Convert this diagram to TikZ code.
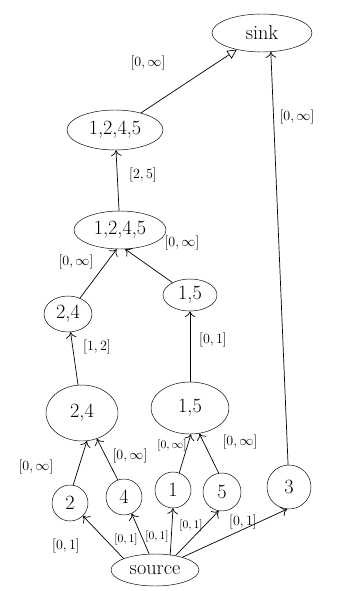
\documentclass[tikz,border=0pt]{standalone}
\usetikzlibrary{shapes.geometric,arrows.meta}
\begin{document}
\begin{tikzpicture}[x=0.03cm, y=-0.03cm,
    every node/.style={ellipse, draw, inner sep=0pt, font=\LARGE},
    single/.style={circle, draw, inner sep=0pt},
    lbl/.style={draw=none, rectangle, inner sep=1pt, font=\large},
    tight/.style={lbl, font=\normalsize},
    flow/.style={-{To[length=5pt, width=9pt]}, semithick}]
    \path[use as bounding box] (0,0) rectangle (341,591);
    \node[minimum width=3cm, minimum height=1.14cm] (sink) at (262,33) {sink};
    \node[minimum width=2.88cm, minimum height=1.2cm] (top) at (115,130) {1,2,4,5};
    \node[minimum width=2.76cm, minimum height=1.14cm] (mid) at (120,230) {1,2,4,5};
    \node[minimum width=1.44cm, minimum height=1.08cm] (m24) at (68,314) {2,4};
    \node[minimum width=1.62cm, minimum height=0.96cm] (m15) at (190,295) {1,5};
    \node[minimum width=2.16cm, minimum height=1.68cm] (b24) at (82,413) {2,4};
    \node[minimum width=2.34cm, minimum height=1.56cm] (b15) at (190,408) {1,5};
    \node[single, minimum size=1.08cm] (n2) at (70,503) {2};
    \node[single, minimum size=1.08cm] (n4) at (124,497) {4};
    \node[single, minimum size=1.08cm] (n1) at (173,490) {1};
    \node[single, minimum size=1.14cm] (n5) at (222,492) {5};
    \node[single, minimum size=1.32cm] (n3) at (289,487) {3};
    \node[minimum width=2.64cm, minimum height=0.96cm] (source) at (155,570) {source};

    \draw[semithick, -{Triangle[open, length=8pt, width=8pt]}] (top) -- (sink);
    \draw[flow] (n3) -- (sink.-65);
    \draw[flow] (mid) -- (top);
    \draw[flow] (m24) -- (mid.-100);
    \draw[flow] (m15) -- (mid.-75);
    \draw[flow] (b24) -- (m24);
    \draw[flow] (b15) -- (m15);
    \draw[flow] (n2.80) -- (b24.-80);
    \draw[flow] (n4.110) -- (b24.-60);
    \draw[flow] (n1.70) -- (b15.-88);
    \draw[flow] (n5.100) -- (b15.-70);
    \draw[flow] (source.160) -- (n2.-45);
    \draw[flow] (source.110) -- (n4.-65);
    \draw[flow] (source.45) -- (n1.-90);
    \draw[flow] (source.35) -- (n5.-100);
    \draw[flow] (source.25) -- (n3.-95);

    \node[lbl] (l1) at (148,63) {$[0,\infty]$};
    \node[lbl] (l2) at (297,117) {$[0,\infty]$};
    \node[lbl] (l3) at (143,175) {$[2,5]$};
    \node[lbl] (l4) at (76,262) {$[0,\infty]$};
    \node[lbl] (l5) at (182,243) {$[0,\infty]$};
    \node[lbl] (l6) at (97,347) {$[1,2]$};
    \node[lbl] (l7) at (213,340) {$[0,1]$};
    \node[lbl] (l8) at (36,467) {$[0,\infty]$};
    \node[lbl] (l9) at (130,456) {$[0,\infty]$};
    \node[tight] (l10) at (172,446) {$[0,\infty]$};
    \node[lbl] (l11) at (240,442) {$[0,\infty]$};
    \node[lbl] (l12) at (66,546) {$[0,1]$};
    \node[tight] (l13) at (126,540) {$[0,1]$};
    \node[tight] (l14) at (157,537) {$[0,1]$};
    \node[tight] (l15) at (191,526) {$[0,1]$};
    \node[lbl] (l16) at (243,522) {$[0,1]$};
\end{tikzpicture}
\end{document}
